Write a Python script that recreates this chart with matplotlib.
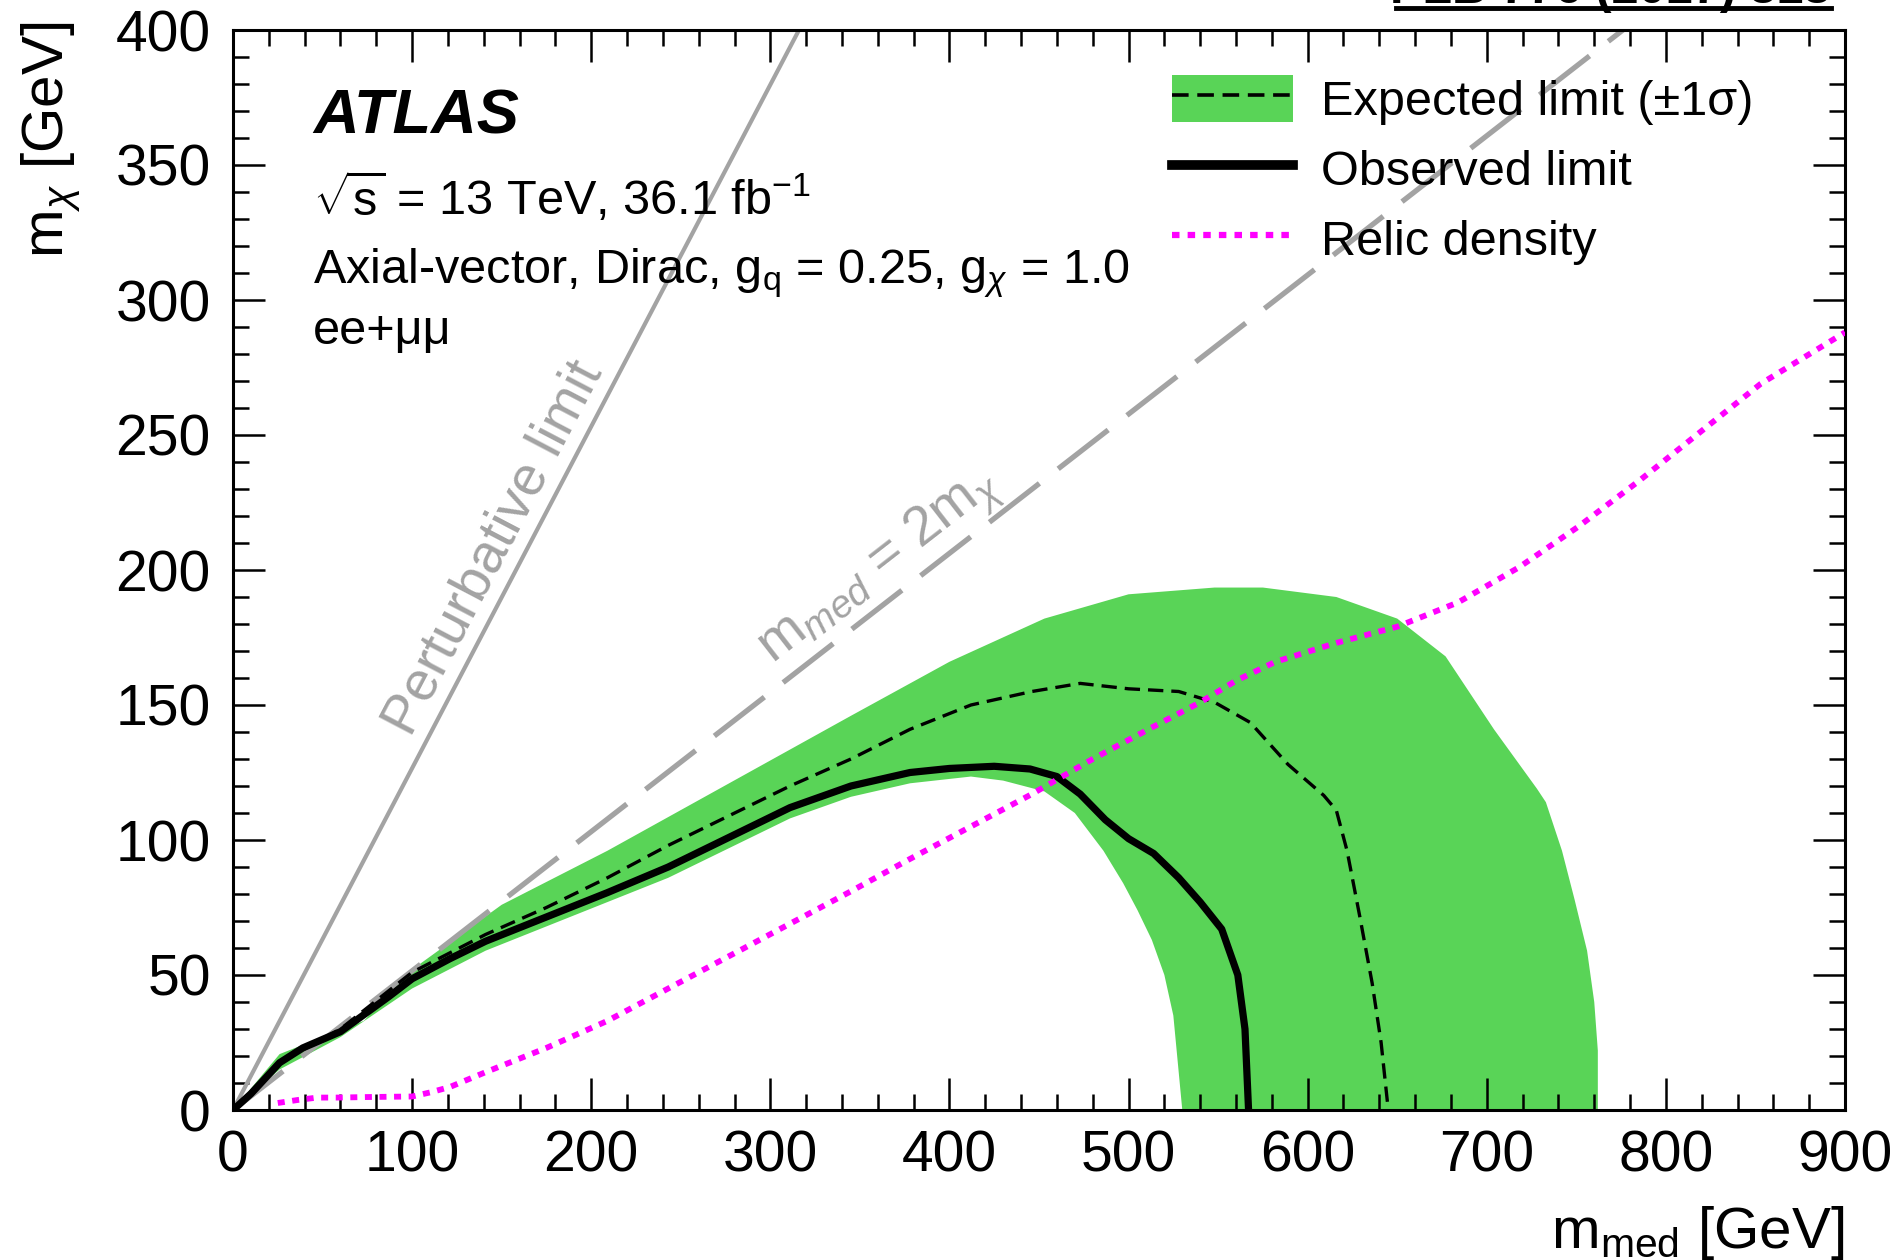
import matplotlib
matplotlib.use("Agg")
import matplotlib.pyplot as plt
from matplotlib.patches import Patch
from matplotlib.lines import Line2D
from matplotlib.ticker import MultipleLocator
import numpy as np

plt.rcParams['font.family'] = ['Liberation Sans', 'DejaVu Sans']
plt.rcParams['mathtext.fontset'] = 'custom'
plt.rcParams['mathtext.rm'] = 'Liberation Sans'
plt.rcParams['mathtext.it'] = 'Liberation Sans:italic'
plt.rcParams['mathtext.bf'] = 'Liberation Sans:bold'
plt.rcParams['mathtext.sf'] = 'Liberation Sans'

# ---------------- data ----------------
# expected +-1 sigma band: upper/right edge (left->right, then down), lower/left edge (back to origin)
band_upper_x = [0, 26, 73, 100, 150, 209, 277, 345, 400, 453, 500, 548, 575, 616, 650, 677, 704, 728, 733, 742, 749, 756, 760, 762, 762]
band_upper_y = [0, 20.7, 33, 52, 76, 96, 121, 146, 166, 182, 191, 193.5, 193.5, 190, 182, 168, 141, 119, 114, 96, 78, 59, 40, 22, 0]
band_lower_x = [530, 528, 525, 520, 513, 505, 497, 486, 470, 453, 430, 412, 378, 345, 311, 277, 243, 209, 175, 141, 100, 60, 26, 0]
band_lower_y = [0, 14, 35, 50, 63, 74, 84, 96, 110, 118, 122, 123.5, 121, 116, 108, 97, 86, 77, 68, 59, 45, 27, 15, 0]

observed_x = [0, 10, 26, 39, 60, 87, 100, 121, 141, 175, 209, 243, 277, 311, 345, 378, 400, 425, 445, 460, 473, 487, 500, 514, 528, 540, 552, 561, 565, 567]
observed_y = [0, 6, 17.5, 23, 29, 42, 48.6, 56, 62.5, 71.5, 80.5, 90, 101, 112, 120, 125, 126.5, 127.3, 126.3, 123.5, 117, 107.5, 100.5, 95, 86, 77, 67, 50, 30, 0]

expected_x = [0, 26, 60, 100, 141, 175, 209, 243, 277, 311, 345, 378, 412, 446, 473, 500, 528, 548, 568, 589, 609, 616, 622, 629, 636, 641, 645]
expected_y = [0, 17.5, 30, 51, 65, 75, 86, 98, 109, 120, 130, 141, 150, 155, 158, 156, 155, 151, 143.5, 128, 116.5, 111, 96, 72, 47, 25, 0]

relic_x = [25, 36, 47, 58, 75, 100, 110, 121, 141, 175, 209, 243, 277, 311, 345, 378, 412, 446, 480, 514, 540, 560, 582, 616, 650, 684, 718, 751, 785, 819, 853, 900]
relic_y = [2.6, 3.7, 4.6, 4.6, 4.8, 5, 6.5, 8.5, 14, 23, 33, 45, 57, 69, 81, 93, 105, 117, 130, 142, 151, 159, 166, 173, 179, 188, 201, 216, 233, 251, 269, 288]

pert_x = [0, 316]
pert_y = [0, 400]
mmed2_x = [0, 776]
mmed2_y = [0, 400]

x_ticks = [0, 100, 200, 300, 400, 500, 600, 700, 800, 900]
y_ticks = [0, 50, 100, 150, 200, 250, 300, 350, 400]

GREEN = '#59d457'
MAGENTA = '#ff00ff'
GRAY = '#a3a3a3'

# ---------------- figure ----------------
W, H = 1904, 1260
fig = plt.figure(figsize=(W / 100, H / 100), dpi=100)
L, R, T, B = 233, 1845, 30, 1110
ax = fig.add_axes([L / W, (H - B) / H, (R - L) / W, (B - T) / H])
ax.set_xlim(0, 900)
ax.set_ylim(0, 400)


def apos(px, py):
    return ((px - L) / (R - L), (B - py) / (B - T))


ax.fill(band_upper_x + band_lower_x, band_upper_y + band_lower_y,
        color=GREEN, lw=0, zorder=1)

ax.plot(pert_x, pert_y, color=GRAY, lw=3.0, zorder=2, solid_capstyle='butt')
ax.plot(mmed2_x, mmed2_y, color=GRAY, lw=3.8, ls=(0, (12, 4.5)), zorder=2)

ax.plot(expected_x, expected_y, color='black', lw=2.4, ls=(0, (4.6, 2.4)), zorder=3)
ax.plot(observed_x, observed_y, color='black', lw=5.2, zorder=4,
        solid_capstyle='butt', solid_joinstyle='round')
ax.plot(relic_x, relic_y, color=MAGENTA, lw=4.2, ls=(0, (1.2, 1.3)), zorder=5)

# axes style
for s in ax.spines.values():
    s.set_linewidth(2.2)
ax.set_xticks(x_ticks)
ax.set_yticks(y_ticks)
ax.xaxis.set_minor_locator(MultipleLocator(20))
ax.yaxis.set_minor_locator(MultipleLocator(10))
ax.tick_params(which='both', direction='in', top=True, right=True, width=1.8)
ax.tick_params(which='major', length=23, labelsize=41)
ax.tick_params(which='minor', length=11.5)
ax.tick_params(axis='x', which='major', pad=14)
ax.tick_params(axis='y', which='major', pad=16)

ax.set_xlabel(r'$\mathrm{m}_{\mathrm{med}}$ [GeV]', fontsize=42, loc='right')
ax.xaxis.set_label_coords(1.0, apos(0, 1248)[1])
ax.xaxis.label.set_va('baseline')
ax.set_ylabel(r'$\mathrm{m}_{\chi}$ [GeV]', fontsize=42, loc='top')
ax.yaxis.set_label_coords(apos(51, 0)[0], apos(0, 22)[1])
ax.yaxis.label.set_va('center')

# texts
tx = apos(313, 0)[0]
ax.text(tx, apos(0, 133)[1], 'ATLAS', transform=ax.transAxes, fontsize=45.5,
        fontweight='bold', fontstyle='italic', va='baseline', ha='left')
ax.text(tx, apos(0, 215)[1], r'$\sqrt{\mathrm{s}}$ = 13 TeV, 36.1 fb$^{-1}$', transform=ax.transAxes,
        fontsize=35, va='baseline', ha='left')
ax.text(tx, apos(0, 283)[1], r'Axial-vector, Dirac, g$_{\mathrm{q}}$ = 0.25, g$_{\chi}$ = 1.0',
        transform=ax.transAxes, fontsize=35, va='baseline', ha='left')
ax.text(tx, apos(0, 344)[1], 'ee+μμ', transform=ax.transAxes,
        fontsize=35, va='baseline', ha='left')


def screen_angle(xs, ys):
    p = ax.transData.transform(np.column_stack([xs, ys]))
    return np.degrees(np.arctan2(p[1, 1] - p[0, 1], p[1, 0] - p[0, 0]))


ang_p = screen_angle(pert_x, pert_y)
ax.text(146, 208, 'Perturbative limit', color=GRAY, fontsize=40,
        rotation=ang_p, rotation_mode='anchor',
        ha='center', va='center', zorder=2)

ang_m = screen_angle(mmed2_x, mmed2_y)
m_pos = 372
off = 15  # points, perpendicular to the line
ax.annotate(r'$\mathrm{m}_{med}$ = 2$\mathrm{m}_{\chi}$',
            xy=(m_pos, m_pos * mmed2_y[1] / mmed2_x[1]),
            xytext=(-off * np.sin(np.radians(ang_m)), off * np.cos(np.radians(ang_m))),
            textcoords='offset points', color=GRAY, fontsize=40,
            rotation=ang_m, rotation_mode='anchor', ha='center', va='baseline', zorder=2)

# legend
h_exp = (Patch(facecolor=GREEN, edgecolor='none'),
         Line2D([], [], color='black', lw=2.6, ls=(0, (4.6, 2.4))))
h_obs = Line2D([], [], color='black', lw=7)
h_rel = Line2D([], [], color=MAGENTA, lw=4.5, ls=(0, (1.2, 1.3)))
ax.legend([h_exp, h_obs, h_rel],
          ['Expected limit (±1σ)', 'Observed limit', 'Relic density'],
          loc='upper left', bbox_to_anchor=apos(1172, 75), frameon=False,
          fontsize=35, handlelength=2.49, handleheight=1.1, labelspacing=0.42,
          handletextpad=0.58, borderpad=0, borderaxespad=0)

# clipped reference text at top right
fig.text(1831 / W, 1 - 3 / H, 'PLB 776 (2017) 318', ha='right', va='baseline',
         fontsize=35, fontweight='bold')
fig.add_artist(Line2D([1396 / W, 1831 / W], [1 - 8 / H, 1 - 8 / H],
                      transform=fig.transFigure, color='black', lw=3.5))

fig.savefig('out.png', dpi=100)
